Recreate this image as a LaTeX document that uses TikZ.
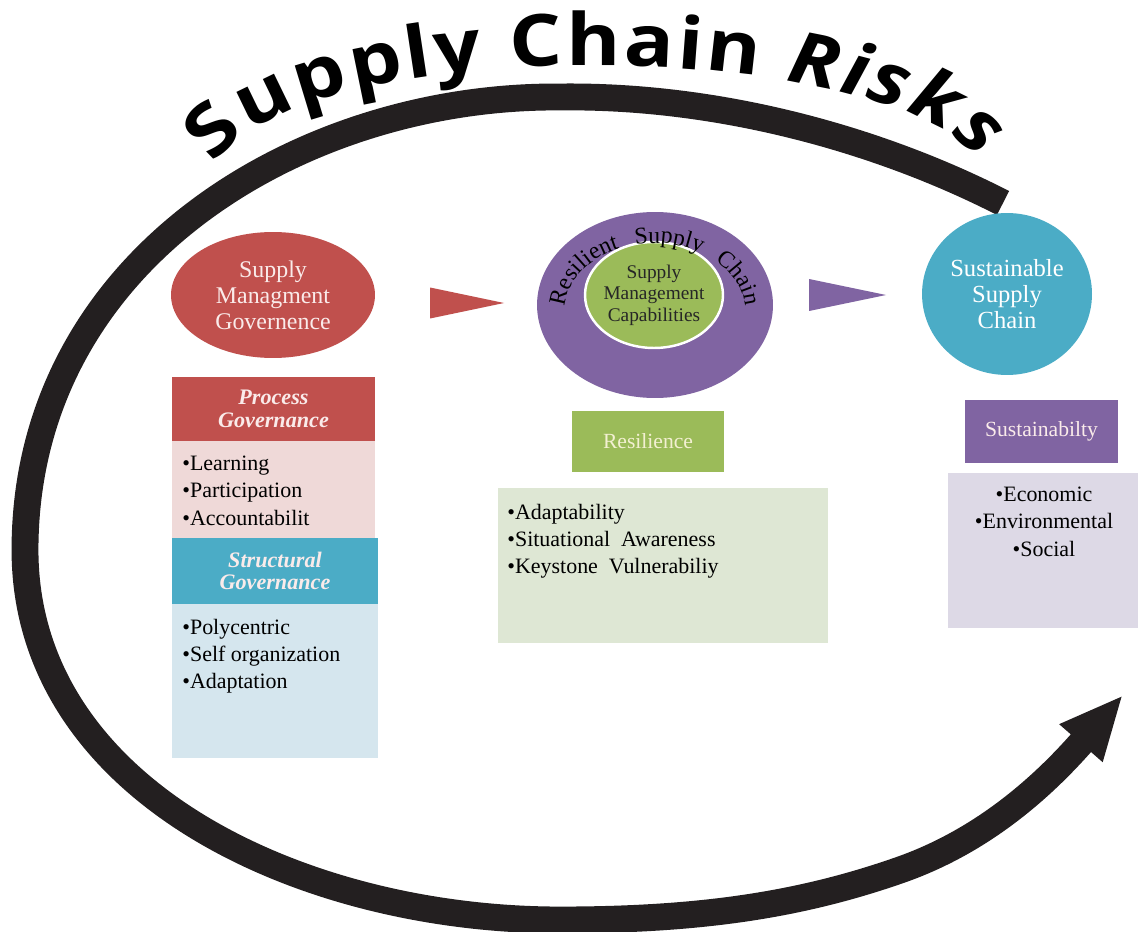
\documentclass[tikz,border=0pt]{standalone}
\usepackage{fontspec}
\setmainfont{Liberation Serif}
\newfontfamily\titlefont[FakeStretch=1.15]{Open Sans}
\usepackage{tikz}
\usetikzlibrary{shapes.geometric, arrows.meta, decorations.text}

\definecolor{govred}{HTML}{C0504D}
\definecolor{govpink}{HTML}{EFD9D8}
\definecolor{strteal}{HTML}{4BACC6}
\definecolor{strblue}{HTML}{D5E6EE}
\definecolor{resgreen}{HTML}{9BBB59}
\definecolor{reslight}{HTML}{DEE7D4}
\definecolor{suspurple}{HTML}{8064A2}
\definecolor{suslight}{HTML}{DDD9E6}
\definecolor{paletext}{HTML}{FAEBEA}
\definecolor{restext}{HTML}{F3F0D2}
\definecolor{loopblack}{HTML}{231F20}

\tikzset{
  blob/.style={ellipse, inner sep=0pt, align=center, text=paletext,
    font=\fontsize{13.6}{14.7}\selectfont},
  headbox/.style={rectangle, inner sep=0pt, align=center, text=paletext,
    font=\fontsize{12.3}{13}\selectfont},
  govbox/.style={headbox, font=\fontsize{12.6}{12.8}\selectfont\bfseries\itshape},
  listbox/.style={rectangle, inner sep=0pt},
  listtext/.style={inner sep=0pt, align=left, font=\fontsize{12.5}{15.4}\selectfont},
  pointer/.style={isosceles triangle, isosceles triangle stretches, inner sep=0pt,
    shape border rotate=0, anchor=apex}
}

\begin{document}
\begin{tikzpicture}[x=0.02cm, y=-0.02cm]
    \useasboundingbox (0,0) rectangle (1138,932);

    % Risk loop
    \draw[loopblack, line width=15.3pt, -{Triangle[length=1.28cm, width=1.05cm]}]
        (1003,203) .. controls (880,140) and (720,95) .. (560,97)
        .. controls (300,95) and (25,260) .. (25,550)
        .. controls (25,790) and (300,920) .. (560,920)
        .. controls (700,920) and (800,905) .. (900,870)
        .. controls (980,842) and (1040,790) .. (1123,695);

    % Title along the loop
    \path[decorate, decoration={text along path, text align={fit to path},
        text={|\titlefont\bfseries\fontsize{41}{45}\selectfont|Supply Chain |\titlefont\bfseries\itshape\fontsize{41}{45}\selectfont|Risks}}]
        (215,165) .. controls (298,30) and (885,36) .. (978,160);

    % Governance
    \node (gov) [blob, fill=govred, minimum width=4.08cm, minimum height=2.52cm]
        at (273,295) {Supply\\Managment\\Governence};
    \node (govhead) [govbox, fill=govred, minimum width=4.06cm, minimum height=1.28cm]
        at (273.5,409) {Process\\Governance};
    \node (govlist) [listbox, fill=govpink, minimum width=4.06cm, minimum height=1.98cm]
        at (273.5,490.5) {};
    \node (govitems) [listtext, anchor=north west] at (182,456)
        {•Learning\\•Participation\\•Accountabilit};
    \node (strhead) [govbox, fill=strteal, minimum width=4.12cm, minimum height=1.32cm]
        at (275,571) {Structural\\Governance};
    \node (strlist) [listbox, fill=strblue, minimum width=4.12cm, minimum height=3.08cm]
        at (275,681) {};
    \node (stritems) [listtext, anchor=north west] at (182,619)
        {•Polycentric\\•Self organization\\•Adaptation};

    % Resilience
    \node (arrgov) [pointer, fill=govred, minimum width=0.62cm, minimum height=1.48cm]
        at (505,303) {};
    \node (ring) [ellipse, fill=suspurple, inner sep=0pt, minimum width=4.72cm, minimum height=3.72cm]
        at (655,305) {};
    \node (core) [ellipse, fill=resgreen, draw=white, line width=1.4pt, inner sep=0pt,
        minimum width=2.76cm, minimum height=2.12cm] at (654,295) {};
    \node (coretext) [inner sep=0pt, align=center, text=black!85,
        font=\fontsize{11}{12.2}\selectfont] at (core.center) {Supply\\Management\\Capabilities};
    \path[decorate, decoration={text along path, text align={fit to path stretching spaces},
        text={|\fontsize{13.5}{13.5}\selectfont|Resilient Supply Chain}}]
        (565.1,306.5) arc[start angle=183, end angle=357, x radius=90, y radius=67];
    \node (resbox) [headbox, fill=resgreen, text=restext, minimum width=3.04cm, minimum height=1.22cm]
        at (648,441.5) {Resilience};
    \node (reslist) [listbox, fill=reslight, minimum width=6.6cm, minimum height=3.1cm]
        at (663,565.5) {};
    \node (resitems) [listtext, anchor=north west] at (507,504)
        {•Adaptability\\•Situational\ \ Awareness\\•Keystone\ \ Vulnerabiliy};

    % Sustainability
    \node (arrres) [pointer, fill=suspurple, minimum width=0.64cm, minimum height=1.54cm]
        at (887,295) {};
    \node (sust) [blob, fill=strteal, text=white, minimum width=3.4cm, minimum height=3.24cm,
        font=\fontsize{14}{14.7}\selectfont] at (1007,294) {Sustainable\\Supply\\Chain};
    \node (susbox) [headbox, fill=suspurple, minimum width=3.06cm, minimum height=1.26cm]
        at (1041.5,431.5) {Sustainabilty};
    \node (suslist) [listbox, fill=suslight, minimum width=3.8cm, minimum height=3.1cm]
        at (1043,550.5) {};
    \node (susitems) [listtext, align=center, anchor=north] at (1044,487)
        {•Economic\\•Environmental\\•Social};
\end{tikzpicture}
\end{document}
